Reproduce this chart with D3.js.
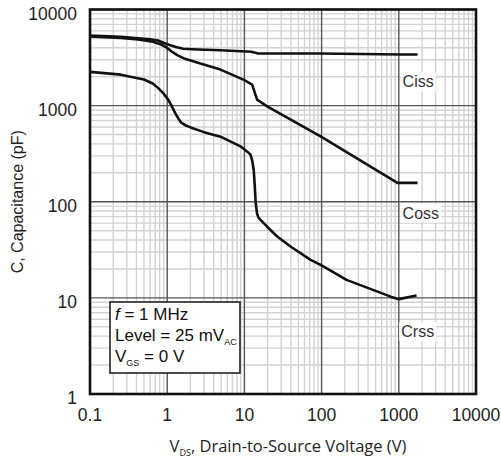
<!DOCTYPE html>
<html>
<head>
<meta charset="utf-8">
<script src="https://cdn.jsdelivr.net/npm/d3@7"></script>
<style>
  body { margin: 0; background: #fff; }
  svg { display: block; }
</style>
</head>
<body>
<div id="chart"></div>
<script>
// Capacitance vs drain-source voltage
const xTicks = [0.1, 1, 10, 100, 1000, 10000];
const yTicks = [1, 10, 100, 1000, 10000];

const cissV = [0.1, 0.25, 0.42, 0.6, 0.76, 0.93, 1.1, 1.3, 1.6, 2.5, 4.9, 12.5, 13.5, 15, 97, 1060, 1750];
const cissC = [5360, 5200, 5020, 4900, 4750, 4450, 4250, 4080, 3900, 3840, 3770, 3640, 3560, 3480, 3480, 3400, 3400];

const cossV = [0.1, 0.25, 0.42, 0.65, 0.84, 1.0, 1.13, 1.35, 1.7, 2.5, 4.9, 9.7, 12.6, 13.5, 14.6, 19.7, 97, 960, 1750];
const cossC = [5230, 5050, 4870, 4620, 4320, 3980, 3680, 3350, 3065, 2800, 2370, 1865, 1655, 1400, 1155, 984, 479, 157, 157];

const crssV = [0.1, 0.25, 0.5, 0.65, 0.76, 0.9, 1.03, 1.15, 1.26, 1.4, 1.52, 1.75, 2.05, 3, 4.9, 8.9, 11, 12, 12.6, 13.2, 13.6, 14.0, 14.6, 15.3, 19.7, 26.6, 40, 72, 100, 210, 787, 1000, 1700];
const crssC = [2245, 2100, 1870, 1700, 1530, 1330, 1155, 980, 845, 730, 665, 620, 590, 530, 475, 377, 330, 309, 270, 215, 150, 98, 75, 68, 55, 43.5, 34, 24.9, 21.8, 15.4, 10.3, 9.7, 10.6];

const seriesNames = ['Ciss', 'Coss', 'Crss'];

const W = 501, H = 465;
const margin = { top: 9.5, right: 25, bottom: 71, left: 90 };
const width = W - margin.left - margin.right;
const height = H - margin.top - margin.bottom;

const svg = d3.select('#chart').append('svg')
    .attr('width', W)
    .attr('height', H);

const g = svg.append('g')
    .attr('transform', `translate(${margin.left},${margin.top})`);

const x = d3.scaleLog().domain([0.1, 10000]).range([0, width]);
const y = d3.scaleLog().domain([1, 10000]).range([height, 0]);

// minor grid
const isMajor = v => Math.abs(Math.log10(v) - Math.round(Math.log10(v))) < 1e-6;
const xMinor = x.ticks().filter(v => !isMajor(v));
const yMinor = y.ticks().filter(v => !isMajor(v));

g.append('g').selectAll('line')
    .data(xMinor)
    .enter().append('line')
    .attr('x1', d => x(d)).attr('x2', d => x(d))
    .attr('y1', 0).attr('y2', height)
    .attr('stroke', '#d2d2d2').attr('stroke-width', 1.4);

g.append('g').selectAll('line')
    .data(yMinor)
    .enter().append('line')
    .attr('y1', d => y(d)).attr('y2', d => y(d))
    .attr('x1', 0).attr('x2', width)
    .attr('stroke', '#d2d2d2').attr('stroke-width', 1.4);

// major grid
g.append('g').selectAll('line')
    .data(xTicks)
    .enter().append('line')
    .attr('x1', d => x(d)).attr('x2', d => x(d))
    .attr('y1', 0).attr('y2', height)
    .attr('stroke', '#555').attr('stroke-width', 1.4);

g.append('g').selectAll('line')
    .data(yTicks)
    .enter().append('line')
    .attr('y1', d => y(d)).attr('y2', d => y(d))
    .attr('x1', 0).attr('x2', width)
    .attr('stroke', '#555').attr('stroke-width', 1.4);

// curves
const line = d3.line()
    .x(d => x(d[0]))
    .y(d => y(d[1]));

const curves = [
    d3.zip(cissV, cissC),
    d3.zip(cossV, cossC),
    d3.zip(crssV, crssC)
];

g.append('g').selectAll('path')
    .data(curves)
    .enter().append('path')
    .attr('d', line)
    .attr('fill', 'none')
    .attr('stroke', '#111')
    .attr('stroke-width', 2.6)
    .attr('stroke-linejoin', 'round');

// curve labels with white backing
const labelPos = [[1300, 3400 / 2.2], [1300, 157 / 2.35], [1250, 10 / 2.55]];
seriesNames.forEach((name, i) => {
    const lg = g.append('g');
    const t = lg.append('text')
        .attr('x', x(labelPos[i][0]) - 5)
        .attr('y', y(labelPos[i][1]))
        .attr('font-family', 'Liberation Sans, Arial, sans-serif')
        .attr('font-size', 16)
        .attr('fill', '#333')
        .text(name);
    const b = t.node().getBBox();
    lg.insert('rect', 'text')
        .attr('x', b.x - 2).attr('y', b.y - 1)
        .attr('width', b.width + 4).attr('height', b.height + 2)
        .attr('fill', '#fff');
});

// frame
g.append('rect')
    .attr('x', 0).attr('y', 0)
    .attr('width', width).attr('height', height)
    .attr('fill', 'none')
    .attr('stroke', '#111')
    .attr('stroke-width', 2.6);

// tick labels
g.append('g').selectAll('text')
    .data(xTicks)
    .enter().append('text')
    .attr('x', d => x(d))
    .attr('y', height + 27)
    .attr('text-anchor', 'middle')
    .attr('font-family', 'Liberation Sans, Arial, sans-serif')
    .attr('font-size', 17.5)
    .attr('fill', '#222')
    .text(d => d3.format('~g')(d));

g.append('g').selectAll('text')
    .data(yTicks)
    .enter().append('text')
    .attr('x', -13)
    .attr('y', d => y(d) + 10)
    .attr('text-anchor', 'end')
    .attr('font-family', 'Liberation Sans, Arial, sans-serif')
    .attr('font-size', 17.5)
    .attr('fill', '#222')
    .text(d => d3.format('~g')(d));

// axis titles
const xt = svg.append('text')
    .attr('x', 288)
    .attr('y', 452)
    .attr('text-anchor', 'middle')
    .attr('font-family', 'Open Sans, sans-serif')
    .attr('font-size', 16.5)
    .attr('fill', '#222');
xt.append('tspan').text('V');
xt.append('tspan').attr('font-size', 9).attr('dy', 4).text('DS');
xt.append('tspan').attr('dy', -4).text(', Drain-to-Source Voltage (V)');

svg.append('text')
    .attr('transform', `translate(23,${margin.top + height / 2}) rotate(-90)`)
    .attr('text-anchor', 'middle')
    .attr('font-family', 'Liberation Sans, Arial, sans-serif')
    .attr('font-size', 16)
    .attr('fill', '#222')
    .text('C, Capacitance (pF)');

// conditions box
const box = svg.append('g').attr('transform', 'translate(110,302)');
box.append('rect')
    .attr('width', 130).attr('height', 71)
    .attr('fill', '#fff')
    .attr('stroke', '#222')
    .attr('stroke-width', 1.6);

const boxText = box.append('g')
    .attr('font-family', 'Liberation Sans, Arial, sans-serif')
    .attr('font-size', 17)
    .attr('fill', '#111');

const l1 = boxText.append('text').attr('x', 5).attr('y', 18);
l1.append('tspan').attr('font-style', 'italic').text('f');
l1.append('tspan').text(' = 1 MHz');

const l2 = boxText.append('text').attr('x', 5).attr('y', 39);
l2.append('tspan').text('Level = 25 mV');
l2.append('tspan').attr('font-size', 9).attr('dy', 4).text('AC');

const l3 = boxText.append('text').attr('x', 5).attr('y', 60);
l3.append('tspan').text('V');
l3.append('tspan').attr('font-size', 9).attr('dy', 4).text('GS');
l3.append('tspan').attr('dy', -4).text(' = 0 V');
</script>
</body>
</html>
